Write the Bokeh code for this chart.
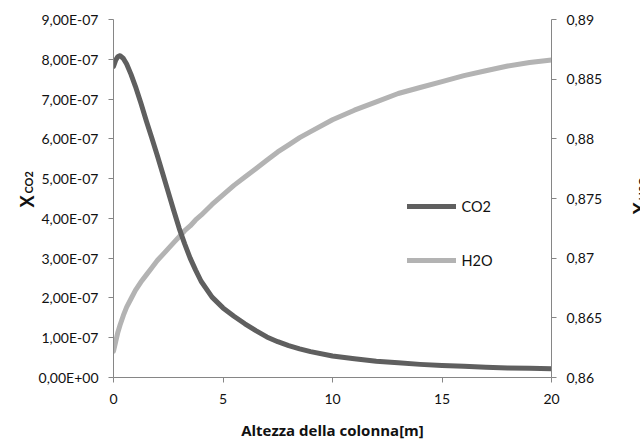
import math
from bokeh.plotting import figure
from bokeh.models import (Range1d, LinearAxis, FixedTicker, CustomJSTickFormatter,
                          Label, Legend, LegendItem, ColumnDataSource)
from bokeh.embed import file_html
from bokeh.resources import INLINE

# ---------------- data ----------------
height_m = [0, 0.1, 0.2, 0.3, 0.45, 0.6, 0.8, 1.0, 1.25, 1.5, 1.75, 2.0, 2.25, 2.5, 2.75,
            3.0, 3.25, 3.5, 3.75, 4.0, 4.5, 5.0, 5.5, 6.0, 6.5, 7.0, 7.5, 8.0, 8.5, 9.0,
            10, 11, 12, 13, 14, 15, 16, 17, 18, 19, 20]
x_co2 = [7.82e-7, 7.98e-7, 8.07e-7, 8.09e-7, 8.02e-7, 7.88e-7, 7.62e-7, 7.32e-7, 6.9e-7, 6.45e-7,
         6.02e-7, 5.58e-7, 5.12e-7, 4.66e-7, 4.2e-7, 3.75e-7, 3.36e-7, 3.0e-7, 2.7e-7, 2.42e-7,
         2.02e-7, 1.75e-7, 1.54e-7, 1.35e-7, 1.18e-7, 1.02e-7, 0.9e-7, 0.8e-7, 0.72e-7, 0.65e-7,
         0.54e-7, 0.47e-7, 0.41e-7, 0.37e-7, 0.33e-7, 0.3e-7, 0.28e-7, 0.26e-7, 0.24e-7, 0.23e-7,
         0.22e-7]
x_h2o = [0.8622, 0.8630, 0.8638, 0.8644, 0.8652, 0.8659, 0.8666, 0.8673, 0.8680, 0.8686,
         0.8692, 0.8698, 0.8703, 0.8708, 0.8713, 0.8718, 0.8723, 0.8727, 0.8732, 0.8736,
         0.8745, 0.8753, 0.8761, 0.8768, 0.8775, 0.8782, 0.8789, 0.8795, 0.8801, 0.8806,
         0.8816, 0.8824, 0.8831, 0.8838, 0.8843, 0.8848, 0.8853, 0.8857, 0.8861, 0.8864,
         0.8866]

x_ticks = [0, 5, 10, 15, 20]
co2_ticks = [0, 1e-7, 2e-7, 3e-7, 4e-7, 5e-7, 6e-7, 7e-7, 8e-7, 9e-7]
co2_tick_labels = ["0,00E+00", "1,00E-07", "2,00E-07", "3,00E-07", "4,00E-07",
                   "5,00E-07", "6,00E-07", "7,00E-07", "8,00E-07", "9,00E-07"]
h2o_ticks = [0.86, 0.865, 0.87, 0.875, 0.88, 0.885, 0.89]
h2o_tick_labels = ["0,86", "0,865", "0,87", "0,875", "0,88", "0,885", "0,89"]

series_names = ["CO2", "H2O"]
x_title = "Altezza della colonna[m]"

# ---------------- styling ----------------
FONT = "Lato"
AXIS_COLOR = "#868686"
CO2_COLOR = "#5f5f5f"
H2O_COLOR = "#b3b3b3"

W, H = 640, 445
FL, FR, FT, FB = 112, 552, 19, 377   # frame edges in px

X0, X1 = 0, 20
Y0, Y1 = 0, 9e-7

p = figure(width=W, height=H, output_backend="svg", toolbar_location=None,
           x_range=Range1d(X0, X1), y_range=Range1d(Y0, Y1),
           min_border_left=FL, min_border_right=W - FR,
           min_border_top=FT, min_border_bottom=H - FB,
           background_fill_color="white", border_fill_color="white")
p.outline_line_color = None
p.xgrid.visible = False
p.ygrid.visible = False
p.extra_y_ranges = {"h2o": Range1d(0.86, 0.89)}

pick_code = """
let k = 0, best = 1e99;
for (let j = 0; j < tvals.length; j++) { const d = Math.abs(tvals[j] - tick); if (d < best) { best = d; k = j; } }
return tlabels[k];
"""


def style_axis(ax):
    ax.axis_line_color = AXIS_COLOR
    ax.axis_line_width = 1
    ax.major_tick_line_color = AXIS_COLOR
    ax.minor_tick_line_color = None
    ax.major_tick_out = 5
    ax.major_tick_in = 0
    ax.major_label_text_font = FONT
    ax.major_label_text_font_size = "14px"
    ax.major_label_text_color = "#111111"


xa = p.xaxis[0]
style_axis(xa)
xa.ticker = FixedTicker(ticks=x_ticks)
xa.major_label_standoff = 11
xa.axis_label = x_title
xa.axis_label_text_font = "Open Sans"
xa.axis_label_text_font_style = "bold"
xa.axis_label_text_font_size = "15px"
xa.axis_label_text_color = "#111111"
xa.axis_label_standoff = 13

ya = p.yaxis[0]
style_axis(ya)
ya.ticker = FixedTicker(ticks=co2_ticks)
ya.formatter = CustomJSTickFormatter(args=dict(tvals=co2_ticks, tlabels=co2_tick_labels), code=pick_code)
ya.major_label_standoff = 10

ra = LinearAxis(y_range_name="h2o")
style_axis(ra)
ra.ticker = FixedTicker(ticks=h2o_ticks)
ra.formatter = CustomJSTickFormatter(args=dict(tvals=h2o_ticks, tlabels=h2o_tick_labels), code=pick_code)
ra.major_label_standoff = 10
p.add_layout(ra, "right")

src = ColumnDataSource(dict(h=height_m, co2=x_co2, h2o=x_h2o))
r_h2o = p.line("h", "h2o", source=src, y_range_name="h2o", line_color=H2O_COLOR,
               line_width=5, line_cap="round", line_join="round")
r_co2 = p.line("h", "co2", source=src, line_color=CO2_COLOR,
               line_width=5, line_cap="round", line_join="round")

legend = Legend(items=[LegendItem(label=series_names[0], renderers=[r_co2]),
                       LegendItem(label=series_names[1], renderers=[r_h2o])],
                location=(405.5 - FL, FB - 270), orientation="vertical",
                padding=0, margin=0, spacing=34,
                glyph_width=49, glyph_height=20, label_height=20, label_standoff=6,
                label_text_font=FONT, label_text_font_size="14.5px", label_text_color="#111111",
                border_line_alpha=0, background_fill_alpha=0)
p.add_layout(legend, "center")


# helpers converting pixel positions to data units for text placement
def dx(px):
    return X0 + (px - FL) / (FR - FL) * (X1 - X0)


def dy(py):
    return Y0 + (FB - py) / (FB - FT) * (Y1 - Y0)


def title_label(px, py, text, size):
    return Label(x=dx(px), y=dy(py), text=text, angle=math.pi / 2, text_align="left",
                 text_baseline="alphabetic", text_font=FONT, text_font_style="bold",
                 text_font_size=size, text_color="#111111")


# left y title: X with subscript CO2 (side panel, so it is not clipped to the frame)
p.add_layout(title_label(25, 207, "X", "18px"), "left")
p.add_layout(title_label(27, 193, "CO2", "11px"), "left")
# right y title: X with subscript H2O
p.add_layout(title_label(641, 214, "X", "18px"), "right")
p.add_layout(title_label(643, 200, "H2O", "11px"), "right")

open("out.html", "w").write(file_html(p, INLINE))
